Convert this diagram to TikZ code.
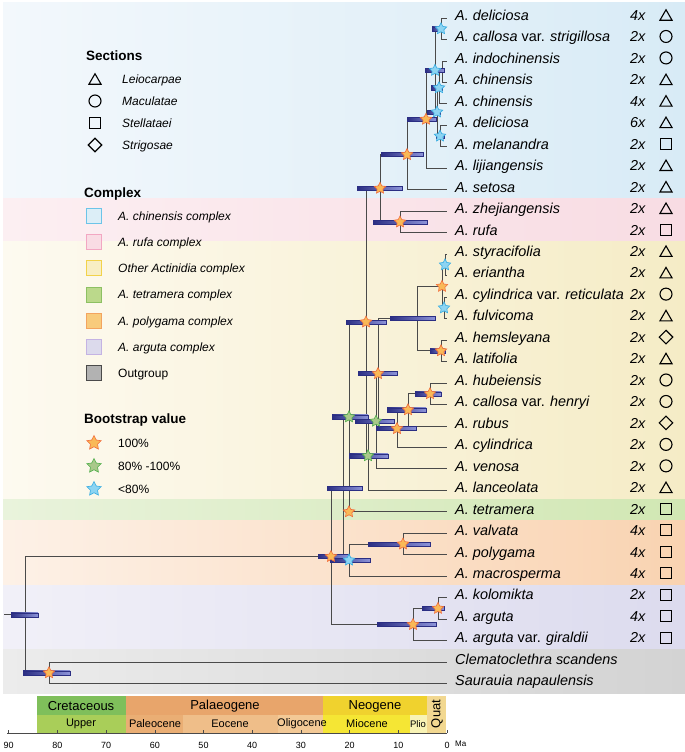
\documentclass[tikz,border=0pt]{standalone}
\usepackage{fontspec}
\setmainfont{Liberation Sans}
\usetikzlibrary{shapes.geometric}

\definecolor{brline}{HTML}{4A4A4A}
\definecolor{barnavy}{HTML}{2B2E83}
\definecolor{barlight}{HTML}{8C93D8}
\definecolor{stfullin}{HTML}{F9B957}
\definecolor{stfullout}{HTML}{F26B3A}
\definecolor{stmidin}{HTML}{A9C88A}
\definecolor{stmidout}{HTML}{4DAE48}
\definecolor{stlowin}{HTML}{8DD4F2}
\definecolor{stlowout}{HTML}{35ACE2}

\begin{document}
\begin{tikzpicture}[x=1pt,y=-1pt,
  br/.style={draw=brline,line width=0.8pt},
  hpd/.style={draw=barnavy,line width=0.4pt,left color=barnavy,right color=barlight},
  boot/.style={star,star points=5,star point ratio=2,minimum size=12pt,inner sep=0pt,line width=0.6pt},
  bsfull/.style={boot,draw=stfullout,fill=stfullin},
  bsmid/.style={boot,draw=stmidout,fill=stmidin},
  bslow/.style={boot,draw=stlowout,fill=stlowin},
  tri/.style={regular polygon,regular polygon sides=3,draw,line width=1.1pt,minimum size=14pt,inner sep=0pt,yshift=-1.75pt},
  cir/.style={circle,draw,line width=1.1pt,minimum size=12pt,inner sep=0pt},
  sq/.style={rectangle,draw,line width=1.1pt,minimum size=11pt,inner sep=0pt},
  dia/.style={diamond,draw,line width=1.1pt,minimum size=14pt,inner sep=0pt},
  taxon/.style={anchor=base west,inner sep=0pt,font=\fontsize{14.4}{17}\selectfont},
  ploidy/.style={taxon,font=\fontsize{14.4}{17}\selectfont\itshape},
  head/.style={anchor=base west,inner sep=0pt,font=\fontsize{13.5}{16}\selectfont\bfseries},
  legtext/.style={anchor=base west,inner sep=0pt,font=\fontsize{12}{14}\selectfont},
  swatch/.style={rectangle,line width=1pt,minimum size=15pt,inner sep=0pt},
  era/.style={font=\fontsize{13}{15}\selectfont,inner sep=0pt},
  epoch/.style={font=\fontsize{11}{13}\selectfont,inner sep=0pt}]
\useasboundingbox (0,0) rectangle (685,752);

% complex bands
\shade[left color={rgb,255:red,243;green,248;blue,252},right color={rgb,255:red,216;green,235;blue,246}] (3,3) rectangle (685,198);
\shade[left color={rgb,255:red,252;green,239;blue,242},right color={rgb,255:red,248;green,220;blue,227}] (3,198) rectangle (685,241);
\shade[left color={rgb,255:red,253;green,250;blue,240},right color={rgb,255:red,245;green,236;blue,198}] (3,241) rectangle (685,499);
\shade[left color={rgb,255:red,233;green,243;blue,220},right color={rgb,255:red,209;green,231;blue,179}] (3,499) rectangle (685,520);
\shade[left color={rgb,255:red,253;green,241;blue,231},right color={rgb,255:red,249;green,211;blue,177}] (3,520) rectangle (685,585);
\shade[left color={rgb,255:red,241;green,240;blue,248},right color={rgb,255:red,220;green,219;blue,238}] (3,585) rectangle (685,649);
\shade[left color={rgb,255:red,236;green,236;blue,236},right color={rgb,255:red,211;green,211;blue,211}] (3,649) rectangle (685,693);

% legend
\node[head] (hsec) at (86,60) {Sections};
\foreach \k/\s/\t in {0/tri/Leiocarpae,1/cir/Maculatae,2/sq/Stellataei,3/dia/Strigosae}{
  \node[\s] (ls\k) at (95,79+22*\k) {};
  \node[legtext] (lt\k) at (122,83.3+22*\k) {\textit{\t}};
}
\node[head] (hcx) at (84,197) {Complex};
\foreach \k/\f/\d/\t in {
  0/DCEEF7/6CC4E8/{\textit{A. chinensis complex}},
  1/F9DCE4/F2A7C2/{\textit{A. rufa complex}},
  2/F8EEC4/F2D24A/{\textit{Other Actinidia complex}},
  3/BBD98B/8DC063/{\textit{A. tetramera complex}},
  4/F8CB7C/F3A45F/{\textit{A. polygama complex}},
  5/DCDAEC/C4B3E3/{\textit{A. arguta complex}},
  6/B2B2B2/4A4A4A/{Outgroup}}{
  \definecolor{swf}{HTML}{\f}\definecolor{swd}{HTML}{\d}
  \node[swatch,fill=swf,draw=swd] (cx\k) at (94,216+26.2*\k) {};
  \node[legtext] (ct\k) at (118,220.3+26.2*\k) {\t};
}
\node[head] (hbs) at (84,423) {Bootstrap value};
\node[bsfull,minimum size=15pt] (lb0) at (94,443) {};
\node[bsmid,minimum size=15pt] (lb1) at (94,466) {};
\node[bslow,minimum size=15pt] (lb2) at (94,489) {};
\node[legtext] (bt0) at (118,447.3) {100\%};
\node[legtext] (bt1) at (118,470.3) {80\% -100\%};
\node[legtext] (bt2) at (118,493.3) {<80\%};

% tips
\foreach \i/\nm/\pl/\sm in {
  1/{\textit{A. deliciosa}}/4x/tri,
  2/{\textit{A. callosa} var. \textit{strigillosa}}/2x/cir,
  3/{\textit{A. indochinensis}}/2x/cir,
  4/{\textit{A. chinensis}}/2x/tri,
  5/{\textit{A. chinensis}}/4x/tri,
  6/{\textit{A. deliciosa}}/6x/tri,
  7/{\textit{A. melanandra}}/2x/sq,
  8/{\textit{A. lijiangensis}}/2x/tri,
  9/{\textit{A. setosa}}/2x/tri,
  10/{\textit{A. zhejiangensis}}/2x/tri,
  11/{\textit{A. rufa}}/2x/sq,
  12/{\textit{A. styracifolia}}/2x/tri,
  13/{\textit{A. eriantha}}/2x/tri,
  14/{\textit{A. cylindrica} var. \textit{reticulata}}/2x/cir,
  15/{\textit{A. fulvicoma}}/2x/tri,
  16/{\textit{A. hemsleyana}}/2x/dia,
  17/{\textit{A. latifolia}}/2x/tri,
  18/{\textit{A. hubeiensis}}/2x/cir,
  19/{\textit{A. callosa} var. \textit{henryi}}/2x/cir,
  20/{\textit{A. rubus}}/2x/dia,
  21/{\textit{A. cylindrica}}/2x/cir,
  22/{\textit{A. venosa}}/2x/cir,
  23/{\textit{A. lanceolata}}/2x/tri,
  24/{\textit{A. tetramera}}/2x/sq,
  25/{\textit{A. valvata}}/4x/sq,
  26/{\textit{A. polygama}}/4x/sq,
  27/{\textit{A. macrosperma}}/4x/sq,
  28/{\textit{A. kolomikta}}/2x/sq,
  29/{\textit{A. arguta}}/4x/sq,
  30/{\textit{A. arguta} var. \textit{giraldii}}/2x/sq}{
  \pgfmathsetmacro\yy{18+21.47*(\i-1)}
  \coordinate (t\i) at (447,\yy);
  \node[taxon] (l\i) at (455,\yy+2.3) {\nm};
  \node[ploidy] (p\i) at (630,\yy+2.3) {\pl};
  \node[\sm] (m\i) at (666,\yy-3) {};
}
\coordinate (t31) at (447,662.1);
\coordinate (t32) at (447,683.5);
\node[taxon] (l31) at (455,664.4) {\textit{Clematoclethra scandens}};
\node[taxon] (l32) at (455,685.8) {\textit{Saurauia napaulensis}};

% internal nodes
\coordinate (stem) at (4,614.7);
\coordinate (root) at (25,614.7);
\coordinate (nOut) at (49,672.8);
\coordinate (nIng) at (331,556.5);
\coordinate (nArg) at (413,624.5);
\coordinate (nKA) at (438,608.4);
\coordinate (nX) at (343,488.5);
\coordinate (nBlue) at (349,560.1);
\coordinate (nVP) at (403,544);
\coordinate (n11) at (349,416.9);
\coordinate (nMain) at (366,322);
\coordinate (nCR) at (380,188.3);
\coordinate (nRufa) at (400,222);
\coordinate (nSet) at (407,154.6);
\coordinate (nLij) at (426,119.3);
\coordinate (core) at (435,70.4);
\coordinate (nA) at (441,28.8);
\coordinate (nLow) at (437,112);
\coordinate (nMid) at (439,87.8);
\coordinate (nB) at (442,71.7);
\coordinate (nD) at (440,136.1);
\coordinate (n10) at (368,455.8);
\coordinate (n9) at (376,421.2);
\coordinate (nSix) at (378,373.6);
\coordinate (g5) at (417,318.6);
\coordinate (n2) at (442,286.4);
\coordinate (n1) at (445,264.9);
\coordinate (n3) at (444,307.9);
\coordinate (n4) at (441,350.8);
\coordinate (n8) at (397,428.6);
\coordinate (n7) at (408,409.8);
\coordinate (nHH) at (430,393.7);

% branches
\draw[br] (stem) -- (root);
\foreach \p/\c in {root/nIng,root/nOut,nOut/t31,nOut/t32,nIng/nX,nIng/nArg,nArg/nKA,nArg/t30,
  nKA/t28,nKA/t29,nX/n11,nX/nBlue,nBlue/nVP,nBlue/t27,nVP/t25,nVP/t26,n11/nMain,n11/t24,
  nMain/nCR,nMain/n10,nCR/nSet,nCR/nRufa,nRufa/t10,nRufa/t11,nSet/nLij,nSet/t9,nLij/core,nLij/t8,
  core/nA,core/nLow,nA/t1,nA/t2,nLow/nMid,nLow/nD,nMid/nB,nMid/t5,nB/t3,nB/t4,nD/t6,nD/t7,
  n10/n9,n10/t23,n9/nSix,n9/t22,nSix/g5,nSix/n8,g5/n2,g5/n4,n2/n1,n2/n3,n1/t12,n1/t13,
  n3/t14,n3/t15,n4/t16,n4/t17,n8/n7,n8/t21,n7/nHH,n7/t20,nHH/t18,nHH/t19}
  \draw[br] (\p) |- (\c);

% node age intervals
\foreach \n/\a/\b in {nA/432/441,core/425/444,nMid/431/442,nLow/427/440,nD/436/444,nLij/407/436,
  nSet/381/423,nCR/357/402,nRufa/373/427,nMain/346/386,g5/390/435,n4/430/445,nSix/358/397,
  nHH/415/441,n7/387/426,n8/376/416,n9/355/394,n10/349/388,n11/332/368,nX/327/362,nIng/318/348,
  nBlue/330/370,nVP/368/430,nArg/377/436,nKA/422/444,nOut/23/70,root/11/38}
  \draw[hpd] (\a,0 |- \n) ++(0,-2) rectangle ++(\b-\a,4);

% bootstrap stars
\foreach \n in {nLij,nSet,nCR,nRufa,nMain,n2,n4,nSix,nHH,n7,n8,nIng,nVP,nArg,nKA,nOut}
  \node[bsfull] (s\n) at (\n) {};
\foreach \n in {n11,n10,n9}
  \node[bsmid] (s\n) at (\n) {};
\foreach \n in {nA,core,nMid,nLow,nD,n1,n3,nBlue}
  \node[bslow] (s\n) at (\n) {};
\node[bsfull] (stet) at (n11 |- t24) {};

% time scale
\fill[fill={rgb,255:red,127;green,191;blue,91}] (37,696) rectangle (126,715);
\fill[fill={rgb,255:red,169;green,206;blue,89}] (37,715) rectangle (126,733);
\fill[fill={rgb,255:red,232;green,165;blue,107}] (126,696) rectangle (323,715);
\fill[fill={rgb,255:red,234;green,174;blue,116}] (126,715) rectangle (183,733);
\fill[fill={rgb,255:red,239;green,190;blue,137}] (183,715) rectangle (278,733);
\fill[fill={rgb,255:red,243;green,201;blue,150}] (278,715) rectangle (323,733);
\fill[fill={rgb,255:red,240;green,210;blue,46}] (323,696) rectangle (427,715);
\fill[fill={rgb,255:red,245;green,230;blue,52}] (323,715) rectangle (410,733);
\fill[fill={rgb,255:red,248;green,243;blue,181}] (410,715) rectangle (427,733);
\fill[fill={rgb,255:red,242;green,216;blue,145}] (427,696) rectangle (446,733);
\node[era] (cret) at (81,706) {Cretaceous};
\node[era] (pal) at (225,706) {Palaeogene};
\node[era] (neo) at (375,706) {Neogene};
\node[era,rotate=90] (quat) at (437,714) {Quat};
\node[epoch] (upp) at (81,724) {Upper};
\node[epoch] (pc) at (155,724) {Paleocene};
\node[epoch] (eo) at (230,724) {Eocene};
\node[epoch] (ol) at (302,724) {Oligocene};
\node[epoch] (mi) at (367,724) {Miocene};
\node[epoch,font=\fontsize{9.5}{11}\selectfont] (pl) at (418,724) {Plio};

% axis
\draw[brline,line width=0.8pt] (7,733) -- (447,733);
\foreach \k in {0,...,9}{
  \draw[brline,line width=0.6pt] (447-48.7*\k,733) -- (447-48.7*\k,730);
  \pgfmathtruncatemacro\ma{10*\k}
  \node[anchor=base,inner sep=0pt,font=\fontsize{9}{10}\selectfont] (ax\k) at (447-48.7*\k,748) {\ma};
}
\node[anchor=base west,inner sep=0pt,font=\fontsize{8}{10}\selectfont] (ma) at (455,746) {Ma};
\end{tikzpicture}
\end{document}
